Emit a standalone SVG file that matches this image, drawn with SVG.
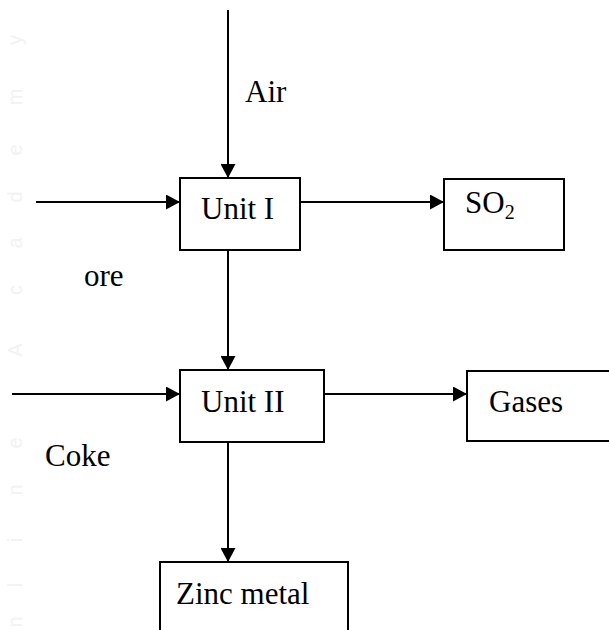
<svg xmlns="http://www.w3.org/2000/svg" width="609" height="630" viewBox="0 0 609 630">
<defs>
<style>
.box{fill:#fff;stroke:#000;stroke-width:2}
.ln{fill:none;stroke:#000;stroke-width:2}
text.t{font-family:"Liberation Serif","DejaVu Serif","Times New Roman",serif;font-size:31px;fill:#000}
.s{font-size:20px}
text.wm{font-family:"Liberation Sans",Arial,sans-serif;font-size:20px;fill:#f1f2f4}
</style>
<marker id="ah" markerWidth="14" markerHeight="15" refX="14" refY="7.5" orient="auto" markerUnits="userSpaceOnUse">
<path d="M0,0 L14,7.5 L0,15 Z" fill="#000"/>
</marker>
</defs>
<rect width="609" height="630" fill="#fff"/>
<g id="watermark" text-anchor="middle">
<text class="wm" transform="translate(22,40) rotate(-90)">y</text>
<text class="wm" transform="translate(22,97) rotate(-90)">m</text>
<text class="wm" transform="translate(22,150) rotate(-90)">e</text>
<text class="wm" transform="translate(22,197) rotate(-90)">d</text>
<text class="wm" transform="translate(22,243) rotate(-90)">a</text>
<text class="wm" transform="translate(22,290) rotate(-90)">c</text>
<text class="wm" transform="translate(22,350) rotate(-90)">A</text>
<text class="wm" transform="translate(22,443) rotate(-90)">e</text>
<text class="wm" transform="translate(22,490) rotate(-90)">n</text>
<text class="wm" transform="translate(22,540) rotate(-90)">i</text>
<text class="wm" transform="translate(22,585) rotate(-90)">l</text>
<text class="wm" transform="translate(22,622) rotate(-90)">n</text>
</g>
<g id="connectors">
<line class="ln" x1="228" y1="10" x2="228" y2="178" marker-end="url(#ah)"/>
<line class="ln" x1="36" y1="202" x2="180" y2="202" marker-end="url(#ah)"/>
<line class="ln" x1="300" y1="202" x2="444" y2="202" marker-end="url(#ah)"/>
<line class="ln" x1="228" y1="250" x2="228" y2="370" marker-end="url(#ah)"/>
<line class="ln" x1="12" y1="394" x2="180" y2="394" marker-end="url(#ah)"/>
<line class="ln" x1="324" y1="394" x2="467" y2="394" marker-end="url(#ah)"/>
<line class="ln" x1="228" y1="442" x2="228" y2="562" marker-end="url(#ah)"/>
</g>
<g id="labels">
<text class="t" font-family="Liberation Serif, serif" x="245" y="102">Air</text>
<text class="t" font-family="Liberation Serif, serif" x="84" y="286">ore</text>
<text class="t" font-family="Liberation Serif, serif" x="45" y="466">Coke</text>
</g>
<g id="unit1">
<rect class="box" x="180" y="178" width="120" height="72"/>
<text class="t" font-family="Liberation Serif, serif" x="201" y="219">Unit I</text>
</g>
<g id="so2">
<rect class="box" x="444" y="179" width="120" height="71"/>
<text class="t" font-family="Liberation Serif, serif" x="465" y="213">SO<tspan class="s" dy="6">2</tspan></text>
</g>
<g id="unit2">
<rect class="box" x="180" y="370" width="144" height="72"/>
<text class="t" font-family="Liberation Serif, serif" x="201" y="412">Unit II</text>
</g>
<g id="gases">
<rect class="box" x="467" y="371" width="150" height="70"/>
<text class="t" font-family="Liberation Serif, serif" x="489" y="412">Gases</text>
</g>
<g id="zinc">
<rect class="box" x="160" y="562" width="188" height="80"/>
<text class="t" font-family="Liberation Serif, serif" x="176" y="604">Zinc metal</text>
</g>
</svg>
